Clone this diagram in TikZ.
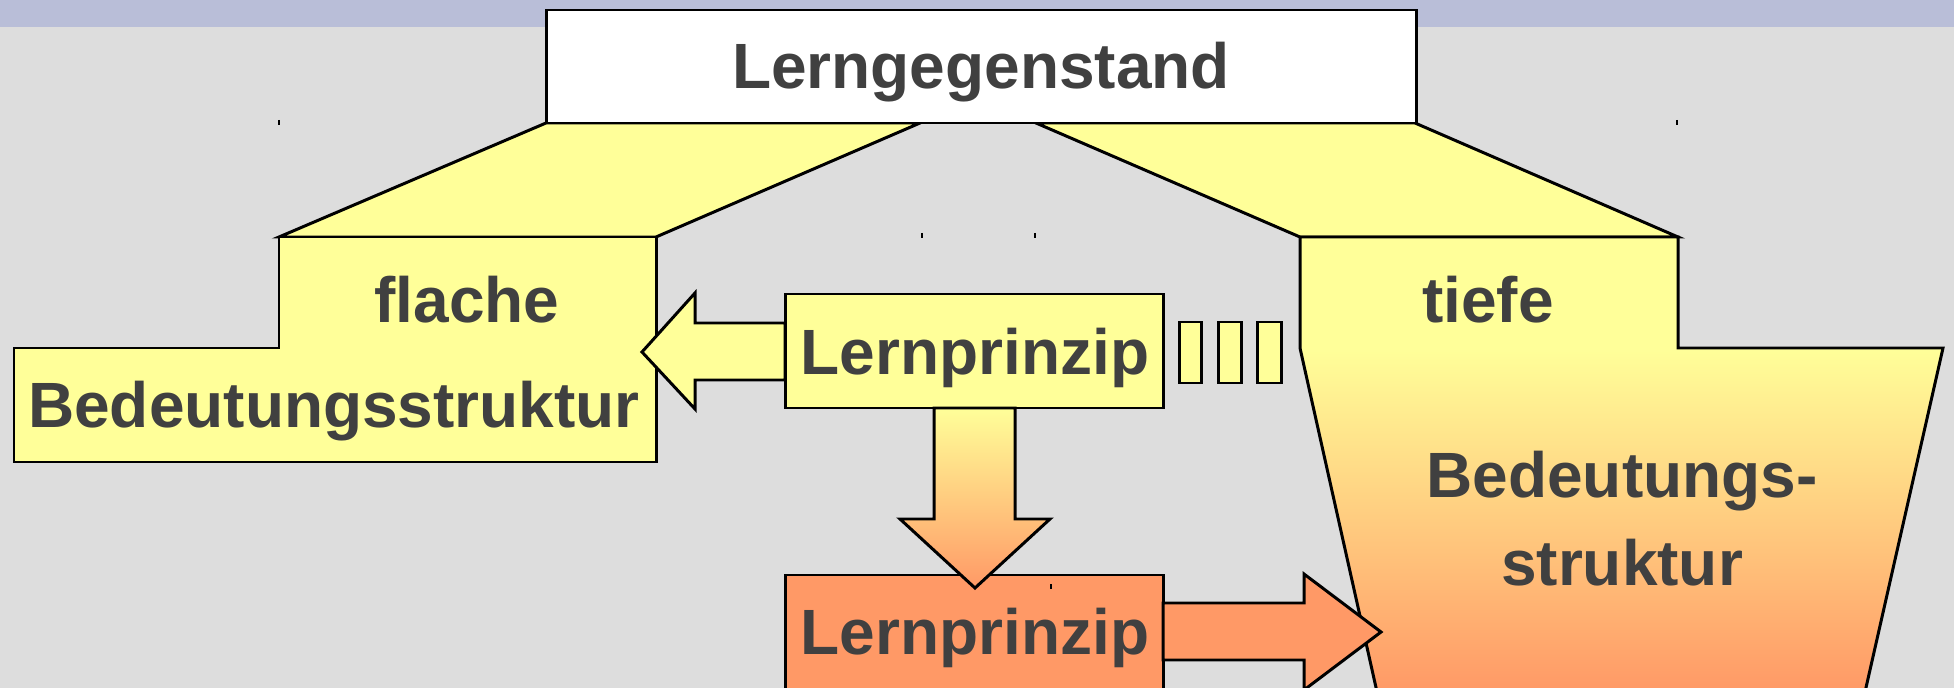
\documentclass[tikz,border=0pt]{standalone}
\usepackage{fontspec}
\setmainfont{Liberation Sans}
\definecolor{band}{HTML}{B9BED8}
\definecolor{bg}{HTML}{DDDDDD}
\definecolor{pale}{HTML}{FFFF99}
\definecolor{peach}{HTML}{FF9966}
\definecolor{ink}{HTML}{404040}
\begin{document}
\begin{tikzpicture}[x=0.01cm, y=-0.01cm, line join=miter,
  outline/.style={draw=black, line width=0.85pt},
  tick/.style={draw=black, line width=0.3pt},
  lbl/.style={text=ink, font=\bfseries\fontsize{18.2}{21}\selectfont, inner sep=0pt, anchor=base}]
\useasboundingbox (0,0) rectangle (1954,688);
% background and title band
\fill[bg] (0,0) rectangle (1954,688);
\fill[band] (0,0) rectangle (1954,27);

% slanted faces joining the topic to both structures
\draw[outline, fill=pale] (546,123) -- (920,123) -- (656,237) -- (279,237) -- cycle;
\draw[outline, fill=pale] (1036,123) -- (1415,123) -- (1678,237) -- (1300,237) -- cycle;

% shallow structure block
\draw[outline, fill=pale] (279,237) -- (656,237) -- (656,462) -- (14,462) -- (14,348) -- (279,348) -- cycle;

% deep structure block, yellow fading to orange
\begin{scope}
  \clip (1300,237) -- (1678,237) -- (1678,348) -- (1943,348) -- (1865,692) -- (1377,692) -- (1300,348) -- cycle;
  \fill[pale] (1290,230) rectangle (1960,349);
  \shade[top color=pale, bottom color=peach] (1290,348) rectangle (1960,692);
\end{scope}
\draw[outline] (1300,237) -- (1678,237) -- (1678,348) -- (1943,348) -- (1865,692) -- (1377,692) -- (1300,348) -- cycle;

% topic box
\draw[outline, fill=white] (546,10) rectangle (1416,123);

% upper principle box
\draw[outline, fill=pale] (785,294) rectangle (1163,408);

% arrow towards the shallow structure
\draw[outline, fill=pale] (785,323) -- (695,323) -- (695,293) -- (642,352) -- (695,409) -- (695,380) -- (785,380) -- cycle;

% three small bars
\draw[outline, fill=pale] (1179,322) rectangle (1201,383);
\draw[outline, fill=pale] (1218,322) rectangle (1241,383);
\draw[outline, fill=pale] (1257,322) rectangle (1281,383);

% lower principle box
\draw[outline, fill=peach] (785,575) rectangle (1163,695);

% downward arrow between the principles
\draw[outline, top color=pale, bottom color=peach] (934,408) -- (934,519) -- (900,519) -- (975,588) -- (1050,519) -- (1015,519) -- (1015,408) -- cycle;

% arrow towards the deep structure
\draw[outline, fill=peach] (1163,603) -- (1304,603) -- (1304,574) -- (1381,632) -- (1304,690) -- (1304,660) -- (1163,660) -- cycle;

% small stray ticks
\draw[tick] (279,120) -- (279,125);
\draw[tick] (922,233) -- (922,238);
\draw[tick] (1035,233) -- (1035,238);
\draw[tick] (1677,120) -- (1677,125);
\draw[tick] (1051,584) -- (1051,589);

% labels
\node[lbl] (topic) at (981,89) {Lerngegenstand};
\node[lbl] (flat) at (467,323) {flache};
\node[lbl] (flatstruct) at (334,427) {Bedeutungsstruktur};
\node[lbl] (deep) at (1488,323) {tiefe};
\node[lbl] (deepa) at (1622,497) {Bedeutungs-};
\node[lbl] (deepb) at (1622,585) {struktur};
\node[lbl] (prinA) at (975,374) {Lernprinzip};
\node[lbl] (prinB) at (975,654) {Lernprinzip};
\end{tikzpicture}
\end{document}
